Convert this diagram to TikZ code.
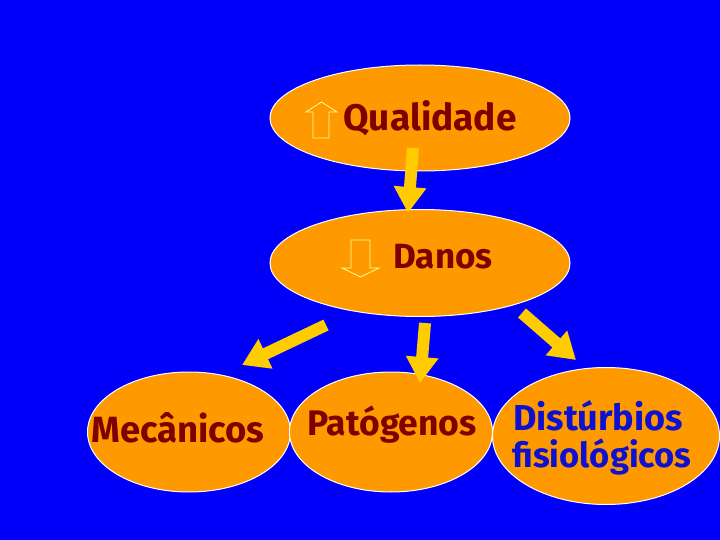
\documentclass[tikz,border=0pt]{standalone}
\usepackage{fontspec}
\setmainfont{Fira Sans}
\usetikzlibrary{arrows.meta,shapes.geometric}
\definecolor{bg}{RGB}{0,0,250}
\definecolor{orng}{RGB}{255,153,0}
\definecolor{gold}{RGB}{255,204,0}
\definecolor{dred}{RGB}{128,0,0}
\definecolor{dblue}{RGB}{16,16,208}
\definecolor{pale}{RGB}{255,255,153}
\begin{document}
\begin{tikzpicture}[x=1pt,y=-1pt,
 bubble/.style={ellipse, fill=orng, draw=white, line width=1pt, inner sep=0pt},
 lbl/.style={anchor=base, font=\fontsize{#1}{38}\selectfont\bfseries, text=dred, inner sep=0pt},
 lbl/.default=35,
 blk/.style={draw=gold, line width=12pt, -{Triangle[width=31pt,length=26pt]}},
 hollow/.style={draw=pale, line width=0.8pt, line join=miter}]
\fill[bg] (0,0) rectangle (720,540);
\useasboundingbox (0,0) rectangle (720,540);
% ellipses
\node[bubble, minimum width=300pt, minimum height=106pt] (q) at (420,118) {};
\node[bubble, minimum width=300pt, minimum height=107pt] (d) at (420,263) {};
\node[bubble, minimum width=203pt, minimum height=120pt] (m) at (189,432) {};
\node[bubble, minimum width=203pt, minimum height=120pt] (p) at (391,432) {};
\node[bubble, minimum width=227pt, minimum height=137pt] (f) at (606,436) {};
% labels
\node[lbl=37] (tq) at (430,131) {Qualidade};
\node[lbl=35] (td) at (443,268) {Danos};
\node[lbl=36.5] (tm) at (178,442) {Mecânicos};
\node[lbl=35.5] (tp) at (392,435) {Patógenos};
\node[lbl=36, text=dblue] (tf1) at (598,430) {Distúrbios};
\node[lbl=34.5, text=dblue] (tf2) at (602,467) {fisiológicos};
% block arrows
\coordinate (a1s) at (413,148); \coordinate (a1e) at (408,213);
\coordinate (a2s) at (326,325); \coordinate (a2e) at (242,365);
\coordinate (a3s) at (425,323); \coordinate (a3e) at (420,383);
\coordinate (a4s) at (522,313); \coordinate (a4e) at (576,360);
\draw[blk] (a1s) -- (a1e);
\draw[blk] (a2s) -- (a2e);
\draw[blk] (a3s) -- (a3e);
\draw[blk] (a4s) -- (a4e);
% hollow arrows
\draw[hollow] (313,138) -- (313,112) -- (306,112) -- (321.5,102) -- (337,112) -- (329,112) -- (329,138) -- cycle;
\draw[hollow] (351,240) -- (351,268) -- (342,268) -- (360.5,277) -- (379,268) -- (370,268) -- (370,240) -- cycle;
\end{tikzpicture}
\end{document}
